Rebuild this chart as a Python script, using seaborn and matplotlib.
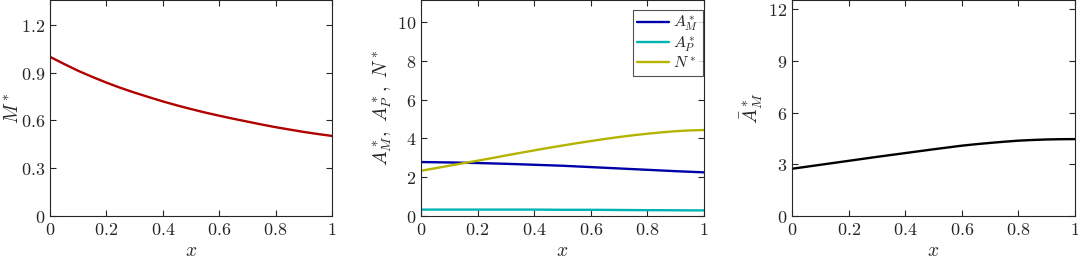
import numpy as np
import pandas as pd
import matplotlib
matplotlib.use('Agg')
import matplotlib.pyplot as plt
import seaborn as sns

x = [0.0, 0.05, 0.1, 0.15, 0.2, 0.25, 0.3, 0.35, 0.4, 0.45, 0.5,
     0.55, 0.6, 0.65, 0.7, 0.75, 0.8, 0.85, 0.9, 0.95, 1.0]
m_star = [1.0, 0.955, 0.912, 0.874, 0.838, 0.805, 0.775, 0.747, 0.72, 0.695, 0.672,
          0.65, 0.63, 0.611, 0.593, 0.575, 0.558, 0.543, 0.528, 0.515, 0.503]
a_m = [2.78, 2.77, 2.76, 2.745, 2.73, 2.71, 2.69, 2.665, 2.64, 2.615, 2.59,
       2.555, 2.52, 2.485, 2.45, 2.415, 2.38, 2.345, 2.31, 2.28, 2.25]
a_p = [0.33, 0.33, 0.33, 0.33, 0.33, 0.33, 0.33, 0.33, 0.33, 0.325, 0.32,
       0.32, 0.32, 0.315, 0.31, 0.305, 0.30, 0.30, 0.295, 0.29, 0.29]
n_star = [2.33, 2.46, 2.59, 2.72, 2.85, 2.98, 3.12, 3.25, 3.38, 3.51, 3.63,
          3.75, 3.86, 3.97, 4.07, 4.16, 4.24, 4.31, 4.37, 4.41, 4.43]
abar_m = [2.74, 2.855, 2.97, 3.085, 3.20, 3.315, 3.43, 3.54, 3.65, 3.76, 3.87,
          3.975, 4.08, 4.165, 4.24, 4.31, 4.37, 4.41, 4.44, 4.455, 4.46]

sns.set_theme(style='ticks')
plt.rcParams['mathtext.fontset'] = 'cm'
plt.rcParams['font.family'] = ['DejaVu Serif']
plt.rcParams['axes.edgecolor'] = '#262626'
plt.rcParams['xtick.color'] = '#262626'
plt.rcParams['ytick.color'] = '#262626'
plt.rcParams['xtick.direction'] = 'in'
plt.rcParams['ytick.direction'] = 'in'

fig = plt.figure(figsize=(10.78, 2.59), dpi=100)
ax1 = fig.add_axes([0.0464, 0.166, 0.2616, 0.834])
ax2 = fig.add_axes([0.3905, 0.166, 0.2625, 0.834])
ax3 = fig.add_axes([0.7347, 0.166, 0.2625, 0.834])

sns.lineplot(x=x, y=m_star, ax=ax1, color='#b00000', lw=1.7)

n = len(x)
df = pd.DataFrame({'x': x * 3,
                   'y': a_m + a_p + n_star,
                   'var': [r'$A_M^*$'] * n + [r'$A_P^*$'] * n + [r'$N^*$'] * n})
sns.lineplot(data=df, x='x', y='y', hue='var', ax=ax2, lw=1.7,
             palette=['#0000a8', '#00b4b4', '#b4b400'])

sns.lineplot(x=x, y=abar_m, ax=ax3, color='black', lw=1.7)

ylims = [(0, 1.357), (0, 11.13), (0, 12.53)]
yticks = [[0, 0.3, 0.6, 0.9, 1.2], [0, 2, 4, 6, 8, 10], [0, 3, 6, 9, 12]]
ylabels = [r'$M^*$', r'$A_M^*,\ A_P^*,\ N^*$', r'$\bar{A}_M^*$']
pads = [-1, 2, 2]
xt = [0, 0.2, 0.4, 0.6, 0.8, 1]
for ax, yl, yt, lab, pad in zip([ax1, ax2, ax3], ylims, yticks, ylabels, pads):
    ax.set_xlim(0, 1)
    ax.set_ylim(*yl)
    ax.set_xticks(xt)
    ax.set_xticklabels(['$%g$' % v for v in xt], fontsize=13)
    ax.set_yticks(yt)
    ax.set_yticklabels(['$%g$' % v for v in yt], fontsize=13)
    ax.tick_params(top=True, right=True, length=4, width=0.8)
    ax.set_xlabel('$x$', fontsize=14, labelpad=2)
    ax.set_ylabel(lab, fontsize=14, labelpad=pad)
    for s in ax.spines.values():
        s.set_linewidth(0.8)

leg = ax2.legend(loc='upper right', bbox_to_anchor=(0.997, 0.955), fontsize=11.5,
                 frameon=True, fancybox=False, handlelength=2.0, borderaxespad=0.0,
                 labelspacing=0.05, borderpad=0.25, handletextpad=0.3)
leg.get_frame().set_edgecolor('#262626')
leg.get_frame().set_linewidth(0.8)

fig.savefig('out.png', dpi=100)
